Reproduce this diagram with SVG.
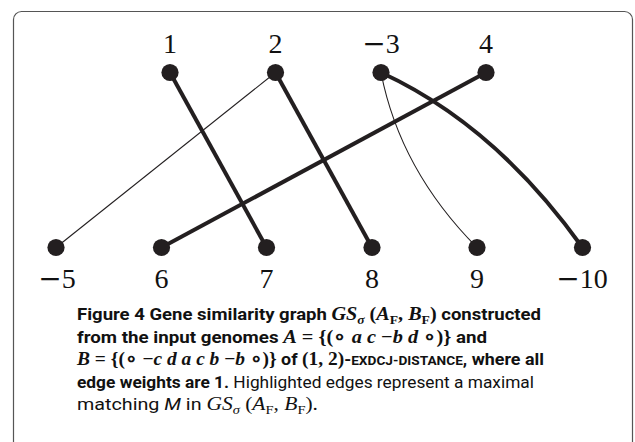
<svg xmlns="http://www.w3.org/2000/svg" width="635" height="442" viewBox="0 0 635 442">
<style>
.frame{fill:none;stroke:#555;stroke-width:1.2}
.node{fill:#231f20}
.thick{fill:none;stroke:#231f20;stroke-width:4}
.thin{fill:none;stroke:#231f20;stroke-width:1.1}
.lbl{font-family:"Liberation Serif",serif;font-size:28px;fill:#111;text-anchor:middle}
.mn{font-family:"DejaVu Serif",serif;font-weight:200}
.cap{font-family:Roboto,"Liberation Sans",sans-serif;font-size:17px;fill:#111}
.b{font-weight:bold}
.m{font-family:"Liberation Serif",serif;font-style:italic;font-size:18.5px}
.r{font-family:"Liberation Serif",serif;font-size:18.5px}
.sub{font-family:"Liberation Serif",serif;font-size:12.5px}
.sc{font-size:13px}
</style>
<rect class="frame" x="13.5" y="11.5" width="619" height="460" rx="8"/>
<g id="connectors">
<line class="thick" x1="170" y1="72.5" x2="266.5" y2="247.5"/>
<line class="thin" x1="275.5" y1="72.5" x2="56" y2="247.5"/>
<line class="thick" x1="275.5" y1="72.5" x2="372" y2="247.5"/>
<line class="thick" x1="486" y1="72.5" x2="161.5" y2="247.5"/>
<path class="thin" d="M381,72.5 Q400,170 477,247.5"/>
<path class="thick" d="M381,72.5 Q495,125 582.5,247.5"/>
</g>
<g id="n1"><circle class="node" cx="170" cy="72.5" r="8.6"/><text class="lbl" x="170" y="53">1</text></g>
<g id="n2"><circle class="node" cx="275.5" cy="72.5" r="8.6"/><text class="lbl" x="275.5" y="53">2</text></g>
<g id="n-3"><circle class="node" cx="381" cy="72.5" r="8.6"/><text class="lbl" x="381" y="53"><tspan class="mn">−</tspan>3</text></g>
<g id="n4"><circle class="node" cx="486" cy="72.5" r="8.6"/><text class="lbl" x="486" y="53">4</text></g>
<g id="n-5"><circle class="node" cx="56" cy="247.5" r="8.6"/><text class="lbl" x="57" y="288"><tspan class="mn">−</tspan>5</text></g>
<g id="n6"><circle class="node" cx="161.5" cy="247.5" r="8.6"/><text class="lbl" x="161.5" y="288">6</text></g>
<g id="n7"><circle class="node" cx="266.5" cy="247.5" r="8.6"/><text class="lbl" x="266.5" y="288">7</text></g>
<g id="n8"><circle class="node" cx="372" cy="247.5" r="8.6"/><text class="lbl" x="372" y="288">8</text></g>
<g id="n9"><circle class="node" cx="477" cy="247.5" r="8.6"/><text class="lbl" x="477" y="288">9</text></g>
<g id="n-10"><circle class="node" cx="582.5" cy="247.5" r="8.6"/><text class="lbl" x="582" y="288"><tspan class="mn">−</tspan>10</text></g>
<g id="caption" class="cap">
<text x="77" y="320" textLength="464" lengthAdjust="spacingAndGlyphs" class="b">Figure 4 Gene similarity graph <tspan class="m">GS</tspan><tspan class="sub" font-style="italic" dy="4">σ</tspan><tspan class="r" dy="-4"> (</tspan><tspan class="m">A</tspan><tspan class="sub" dy="4">F</tspan><tspan class="r" dy="-4">, </tspan><tspan class="m">B</tspan><tspan class="sub" dy="4">F</tspan><tspan class="r" dy="-4">)</tspan> constructed</text>
<text x="77" y="343" textLength="410" lengthAdjust="spacingAndGlyphs" class="b">from the input genomes <tspan class="m">A</tspan><tspan class="r"> = {(∘ </tspan><tspan class="m">a c </tspan><tspan class="r">−</tspan><tspan class="m">b d </tspan><tspan class="r">∘)}</tspan> and</text>
<text x="77" y="365" textLength="467" lengthAdjust="spacingAndGlyphs" class="b"><tspan class="m">B</tspan><tspan class="r"> = {(∘ −</tspan><tspan class="m">c d a c b </tspan><tspan class="r">−</tspan><tspan class="m">b </tspan><tspan class="r">∘)}</tspan> of <tspan class="r">(1, 2)</tspan>-<tspan class="sc">EXDCJ-DISTANCE</tspan>, where all</text>
<text x="77" y="388" textLength="457" lengthAdjust="spacingAndGlyphs"><tspan class="b">edge weights are 1.</tspan> Highlighted edges represent a maximal</text>
<text x="77" y="410" textLength="241" lengthAdjust="spacingAndGlyphs">matching <tspan font-style="italic">M</tspan> in <tspan class="m">GS</tspan><tspan class="sub" font-style="italic" dy="4">σ</tspan><tspan class="r" dy="-4"> (</tspan><tspan class="m">A</tspan><tspan class="sub" dy="4">F</tspan><tspan class="r" dy="-4">, </tspan><tspan class="m">B</tspan><tspan class="sub" dy="4">F</tspan><tspan class="r" dy="-4">).</tspan></text>
</g>
</svg>
